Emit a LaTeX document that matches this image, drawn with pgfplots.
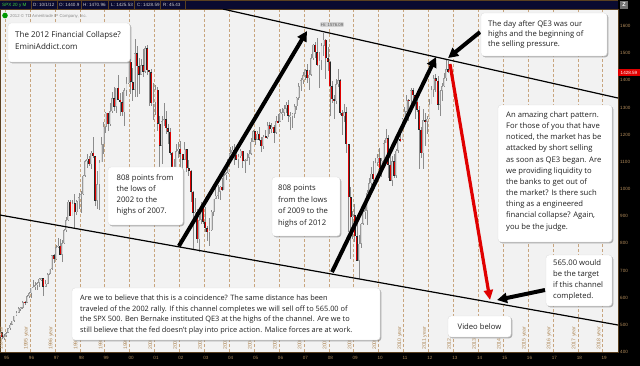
\documentclass[border=0pt]{standalone}
\usepackage{pgfplots}
\pgfplotsset{compat=1.18}
\usepackage{pgfplotstable}
\usepackage{fontspec}
\setmainfont{Open Sans}
\newfontfamily\lib{Liberation Sans}
\usetikzlibrary{arrows.meta,shadows}
\definecolor{plotbg}{HTML}{F2F2F2}
\definecolor{gridtan}{HTML}{C8A57E}
\definecolor{labtan}{HTML}{B08A5A}
\definecolor{barnavy}{HTML}{0A0A30}
\definecolor{barline}{HTML}{5A4020}
\definecolor{cred}{HTML}{E00000}
\definecolor{wick}{HTML}{8C8C8C}
\definecolor{upedge}{HTML}{9A9A9A}
\definecolor{upfill}{HTML}{DADADA}
\definecolor{txt}{HTML}{202020}

\pgfplotstableread{
yr mo o h l c
1994 10 462 473 455 472
1994 11 472 474 449 454
1994 12 454 466 443 459
1995 1 459 472 457 470
1995 2 470 490 469 487
1995 3 487 507 482 501
1995 4 501 515 500 515
1995 5 515 534 510 533
1995 6 533 551 533 545
1995 7 545 566 545 562
1995 8 562 565 552 562
1995 9 562 586 560 584
1995 10 584 586 572 582
1995 11 582 609 582 605
1995 12 605 622 600 616
1996 1 616 636 597 636
1996 2 636 664 634 640
1996 3 640 656 627 646
1996 4 646 657 630 654
1996 5 654 673 641 669
1996 6 669 673 661 671
1996 7 671 671 605 640
1996 8 640 666 639 652
1996 9 652 690 650 687
1996 10 687 706 684 706
1996 11 706 757 702 757
1996 12 757 762 726 741
1997 1 741 794 737 786
1997 2 786 818 783 791
1997 3 791 815 756 757
1997 4 757 812 733 801
1997 5 801 851 797 848
1997 6 848 898 840 885
1997 7 885 961 882 954
1997 8 954 961 899 899
1997 9 899 960 899 947
1997 10 947 983 855 915
1997 11 915 961 903 955
1997 12 955 986 926 970
1998 1 970 993 912 980
1998 2 980 1050 979 1049
1998 3 1049 1106 1046 1102
1998 4 1102 1130 1077 1112
1998 5 1112 1123 1084 1091
1998 6 1091 1141 1074 1134
1998 7 1134 1190 1113 1121
1998 8 1121 1122 939 957
1998 9 957 1066 925 1017
1998 10 1017 1105 923 1099
1998 11 1099 1192 1098 1164
1998 12 1164 1245 1130 1229
1999 1 1229 1285 1205 1280
1999 2 1280 1280 1212 1238
1999 3 1238 1317 1232 1286
1999 4 1286 1358 1281 1335
1999 5 1335 1376 1287 1302
1999 6 1302 1373 1280 1373
1999 7 1373 1421 1346 1329
1999 8 1329 1352 1268 1320
1999 9 1320 1358 1269 1283
1999 10 1283 1373 1233 1363
1999 11 1363 1411 1342 1389
1999 12 1389 1474 1387 1469
2000 1 1469 1478 1350 1394
2000 2 1394 1445 1325 1366
2000 3 1366 1553 1340 1499
2000 4 1499 1527 1339 1452
2000 5 1452 1481 1349 1421
2000 6 1421 1477 1420 1455
2000 7 1455 1517 1413 1431
2000 8 1431 1525 1428 1518
2000 9 1518 1531 1421 1437
2000 10 1437 1437 1305 1429
2000 11 1429 1440 1304 1315
2000 12 1315 1390 1254 1320
2001 1 1320 1384 1274 1366
2001 2 1366 1377 1215 1240
2001 3 1240 1268 1081 1160
2001 4 1160 1269 1092 1249
2001 5 1249 1316 1233 1256
2001 6 1256 1287 1203 1224
2001 7 1224 1239 1165 1211
2001 8 1211 1226 1124 1134
2001 9 1134 1135 944 1041
2001 10 1041 1111 1026 1060
2001 11 1060 1164 1055 1139
2001 12 1139 1173 1114 1148
2002 1 1148 1176 1081 1130
2002 2 1130 1130 1074 1107
2002 3 1107 1173 1106 1147
2002 4 1147 1147 1063 1077
2002 5 1077 1107 1049 1067
2002 6 1067 1070 953 990
2002 7 990 994 776 912
2002 8 912 966 878 916
2002 9 916 925 801 815
2002 10 815 900 768 886
2002 11 886 952 873 936
2002 12 936 954 872 880
2003 1 880 935 840 856
2003 2 856 865 807 841
2003 3 841 895 789 848
2003 4 848 924 847 917
2003 5 917 965 902 964
2003 6 964 1015 963 975
2003 7 975 1016 962 990
2003 8 990 1011 961 1008
2003 9 1008 1040 991 996
2003 10 996 1054 995 1051
2003 11 1051 1063 1032 1058
2003 12 1058 1112 1056 1112
2004 1 1112 1155 1105 1131
2004 2 1131 1159 1124 1145
2004 3 1145 1164 1087 1126
2004 4 1126 1150 1107 1107
2004 5 1107 1128 1077 1121
2004 6 1121 1146 1113 1141
2004 7 1141 1141 1078 1102
2004 8 1102 1109 1060 1104
2004 9 1104 1131 1102 1115
2004 10 1115 1142 1090 1130
2004 11 1130 1188 1127 1174
2004 12 1174 1217 1173 1212
2005 1 1212 1212 1163 1181
2005 2 1181 1212 1180 1204
2005 3 1204 1229 1177 1181
2005 4 1181 1191 1136 1157
2005 5 1157 1199 1146 1192
2005 6 1192 1219 1188 1191
2005 7 1191 1246 1184 1234
2005 8 1234 1245 1201 1220
2005 9 1220 1243 1205 1229
2005 10 1229 1234 1168 1207
2005 11 1207 1270 1202 1249
2005 12 1249 1276 1246 1248
2006 1 1248 1295 1245 1280
2006 2 1280 1297 1253 1281
2006 3 1281 1310 1268 1295
2006 4 1295 1319 1280 1311
2006 5 1311 1326 1245 1270
2006 6 1270 1284 1219 1270
2006 7 1270 1280 1224 1277
2006 8 1277 1312 1263 1304
2006 9 1304 1340 1290 1336
2006 10 1336 1389 1327 1378
2006 11 1378 1407 1360 1401
2006 12 1401 1431 1385 1418
2007 1 1418 1441 1403 1438
2007 2 1438 1461 1389 1407
2007 3 1407 1438 1364 1421
2007 4 1421 1498 1416 1482
2007 5 1482 1535 1476 1531
2007 6 1531 1540 1484 1503
2007 7 1503 1556 1451 1455
2007 8 1455 1504 1370 1474
2007 9 1474 1539 1439 1527
2007 10 1527 1576 1490 1549
2007 11 1549 1551 1406 1481
2007 12 1481 1524 1436 1468
2008 1 1468 1471 1270 1379
2008 2 1379 1396 1317 1331
2008 3 1331 1345 1257 1323
2008 4 1323 1404 1313 1386
2008 5 1386 1440 1374 1400
2008 6 1400 1404 1272 1280
2008 7 1280 1292 1200 1267
2008 8 1267 1314 1248 1283
2008 9 1283 1303 1134 1165
2008 10 1165 1167 840 969
2008 11 969 1008 741 896
2008 12 896 919 815 903
2009 1 903 943 805 826
2009 2 826 876 735 735
2009 3 735 832 667 798
2009 4 798 876 784 873
2009 5 873 930 866 919
2009 6 919 956 889 919
2009 7 919 997 869 987
2009 8 987 1040 979 1021
2009 9 1021 1080 992 1057
2009 10 1057 1102 1030 1036
2009 11 1036 1114 1030 1096
2009 12 1096 1130 1086 1115
2010 1 1115 1151 1071 1074
2010 2 1074 1113 1045 1104
2010 3 1104 1181 1102 1169
2010 4 1169 1220 1168 1187
2010 5 1187 1200 1040 1089
2010 6 1089 1131 1028 1031
2010 7 1031 1121 1011 1102
2010 8 1102 1129 1040 1049
2010 9 1049 1149 1040 1141
2010 10 1141 1196 1131 1183
2010 11 1183 1228 1173 1181
2010 12 1181 1263 1181 1258
2011 1 1258 1303 1257 1286
2011 2 1286 1345 1285 1327
2011 3 1327 1333 1249 1326
2011 4 1326 1370 1313 1364
2011 5 1364 1371 1311 1345
2011 6 1345 1346 1259 1321
2011 7 1321 1357 1283 1292
2011 8 1292 1307 1074 1219
2011 9 1219 1230 1115 1131
2011 10 1131 1293 1075 1253
2011 11 1253 1278 1158 1247
2011 12 1247 1270 1202 1258
2012 1 1258 1333 1258 1312
2012 2 1312 1378 1312 1366
2012 3 1366 1420 1340 1408
2012 4 1408 1422 1358 1398
2012 5 1398 1415 1291 1310
2012 6 1310 1364 1267 1362
2012 7 1362 1392 1325 1379
2012 8 1379 1427 1377 1407
2012 9 1407 1475 1396 1441
2012 10 1441 1471 1426 1429
}\spx

\newcommand\callouttext[5]{%
  \foreach \t [count=\i from 0] in {#5} {%
    \node[anchor=base west, inner sep=0pt, font=\fontsize{#4}{#4}\selectfont, text=txt] at (#1,{#2+\i*#3}) {\t};}}

\tikzset{callout/.style={fill=white, draw=black!12, line width=0.4bp, rounded corners=3bp,
  drop shadow={shadow xshift=1.3bp, shadow yshift=-1.3bp, fill=black!55, opacity=0.55}}}

\begin{document}
\begin{tikzpicture}
\useasboundingbox (0bp,0bp) rectangle (640bp,-366bp);
\fill[black] (0bp,0bp) rectangle (640bp,-366bp);
\begin{axis}[
  at={(0bp,-352bp)}, anchor=south west,
  scale only axis, width=618bp, height=343bp,
  xmin=1994.795, xmax=2019.614, ymin=400, ymax=1662.6,
  axis background/.style={fill=plotbg},
  axis line style={draw=barline},
  xtick={1995,1996,...,2019},
  xticklabels={95,96,97,98,99,00,01,02,03,04,05,06,07,08,09,10,11,12,13,14,15,16,17,18,19},
  ytick={400,500,...,1600},
  yticklabels={400,500,600,700,800,900,1000,1100,1200,1300,1400,1500,1600},
  yticklabel pos=right,
  major tick length=0pt,
  xmajorgrids,
  major x grid style={draw=gridtan, dash pattern=on 3bp off 2bp, line width=0.6bp},
  xticklabel style={font=\lib\fontsize{4.6}{5}\selectfont, text=labtan, anchor=north, inner sep=0pt, yshift=-4bp, xshift=1.5bp},
  yticklabel style={font=\lib\fontsize{4.6}{5}\selectfont, text=labtan, anchor=west, inner sep=0pt, xshift=2bp},
]
% wicks
\addplot[draw=none, forget plot, error bars/.cd, y dir=both, y explicit, error mark=none,
  error bar style={draw=wick, line width=0.5bp}]
  table[x expr={\thisrow{yr}+(\thisrow{mo}-0.5)/12}, y expr={(\thisrow{h}+\thisrow{l})/2},
        y error expr={(\thisrow{h}-\thisrow{l})/2}] {\spx};
% up bodies
\addplot[draw=none, forget plot, error bars/.cd, y dir=both, y explicit, error mark=none,
  error bar style={draw=upedge, line width=1.9bp}]
  table[x expr={\thisrow{yr}+(\thisrow{mo}-0.5)/12},
        y expr={\thisrow{c}>=\thisrow{o} ? (\thisrow{o}+\thisrow{c})/2 : nan},
        y error expr={max(abs(\thisrow{c}-\thisrow{o})/2,2.5)}] {\spx};
\addplot[draw=none, forget plot, error bars/.cd, y dir=both, y explicit, error mark=none,
  error bar style={draw=upfill, line width=0.7bp}]
  table[x expr={\thisrow{yr}+(\thisrow{mo}-0.5)/12},
        y expr={\thisrow{c}>=\thisrow{o} ? (\thisrow{o}+\thisrow{c})/2 : nan},
        y error expr={max(abs(\thisrow{c}-\thisrow{o})/2-2,0.5)}] {\spx};
% down bodies
\addplot[draw=none, forget plot, error bars/.cd, y dir=both, y explicit, error mark=none,
  error bar style={draw=black!85, line width=2.0bp}]
  table[x expr={\thisrow{yr}+(\thisrow{mo}-0.5)/12},
        y expr={\thisrow{c}<\thisrow{o} ? (\thisrow{o}+\thisrow{c})/2 : nan},
        y error expr={max(abs(\thisrow{c}-\thisrow{o})/2,2.5)}] {\spx};
\addplot[draw=none, forget plot, error bars/.cd, y dir=both, y explicit, error mark=none,
  error bar style={draw=cred, line width=1.0bp}]
  table[x expr={\thisrow{yr}+(\thisrow{mo}-0.5)/12},
        y expr={\thisrow{c}<\thisrow{o} ? (\thisrow{o}+\thisrow{c})/2 : nan},
        y error expr={max(abs(\thisrow{c}-\thisrow{o})/2-2,0.5)}] {\spx};
% channel lines
\addplot[black, line width=1.2bp] coordinates {(2003.751,1662.4) (2019.614,1334.9)};
\addplot[black, line width=1.2bp] coordinates {(1994.795,904.2) (2019.614,499.4)};
% arrows
\draw[line width=4bp, -{Triangle[length=10bp,width=10bp]}] (2001.98,790.1) -- (2007.124,1581.5);
\draw[line width=4bp, -{Triangle[length=10bp,width=10bp]}] (2008.128,694.4) -- (2012.305,1485.7);
\draw[line width=4bp, -{Triangle[length=10bp,width=10bp]}] (2014.072,1577.8) -- (2012.79,1482.1);
\draw[line width=4bp, -{Triangle[length=10bp,width=10bp]}] (2016.683,628.2) -- (2014.755,591.4);
\draw[cred, line width=3.2bp, -{Triangle[length=10bp,width=9bp]}] (2012.867,1460) -- (2014.474,591.4);
\end{axis}

\begin{scope}[x=1bp,y=-1bp]
% top bar
\fill[barnavy] (0,0) rectangle (618,9);
\draw[barline, line width=0.6bp] (0,0.3) -- (618,0.3);
\foreach \d in {31,57,81,108,134,160,185} \draw[barline, line width=0.6bp] (\d,0) -- (\d,9);
\node[anchor=base west, inner sep=0pt, font=\lib\fontsize{4.6}{5}\selectfont, text={rgb,255:red,60;green,210;blue,60}] at (2,6.5) {SPX 20 y M};
\foreach \x/\s in {33/{D: 10/1/12},59/{O: 1440.9},83/{H: 1470.96},111/{L: 1425.53},137/{C: 1428.59},163/{R: 45.43}}
  \node[anchor=base west, inner sep=0pt, font=\lib\fontsize{4.6}{5}\selectfont, text=black!20] at (\x,6.5) {\s};
\fill[black!55] (620,1) rectangle (628,8.5);
\node[inner sep=0pt, font=\lib\bfseries\fontsize{5.5}{6}\selectfont, text=white] at (624,4.8) {Z};
% copyright
\fill[green!60!black] (5,15.5) circle (2.8);
\node[anchor=base west, inner sep=0pt, font=\lib\fontsize{4.3}{5}\selectfont, text=black!45] at (10,17) {2012 © TD Ameritrade IP Company, Inc.};
% Hi label
\node[fill=black!18, rounded corners=1bp, inner sep=0.8bp, font=\lib\fontsize{4.3}{5}\selectfont, text=black!65] at (332,24.5) {Hi: 1576.09};
% rotated year labels
\foreach \Y in {1994,...,2018}
  \node[rotate=90, anchor=west, inner sep=0pt, font=\lib\fontsize{5.2}{5.5}\selectfont, text=labtan] at ({30+24.9*(\Y+1-1996)-3.7},350) {\Y\ year};
% red price tag
\fill[cred] (618,69.3) rectangle (640,75.5);
\node[inner sep=0pt, font=\lib\fontsize{4.6}{5}\selectfont, text=white] at (629,72.5) {1428.59};
% callouts
\path[callout] (8,23) rectangle (130,62);
\callouttext{15}{37}{12}{8}{{The 2012 Financial Collapse?},{EminiAddict.com}}
\path[callout] (481,13) rectangle (607,56);
\callouttext{488}{26}{10.3}{7.7}{{The day after QE3 was our},{highs and the beginning of},{the selling pressure.}}
\path[callout] (498,105) rectangle (612,242);
\callouttext{506}{117.5}{11.15}{7.7}{{An amazing chart pattern.},{For those of you that have},{noticed, the market has be},{attacked by short selling},{as soon as QE3 began. Are},{we providing liquidity to},{the banks to get out of},{the market? Is there such},{thing as a engineered},{financial collapse? Again,},{you be the judge.}}
\path[callout] (108,167) rectangle (183,225);
\callouttext{116.5}{180.5}{11.1}{7.7}{{808 points from},{the lows of},{2002 to the},{highs of 2007.}}
\path[callout] (272,177) rectangle (340,236);
\callouttext{278}{190.5}{11.5}{7.7}{{808 points},{from the lows},{of 2009 to the},{highs of 2012}}
\path[callout] (72,288) rectangle (380,340);
\callouttext{80}{300.5}{10.6}{7.4}{{Are we to believe that this is a coincidence? The same distance has been},{traveled of the 2002 rally. If this channel completes we will sell off to 565.00 of},{the SPX 500. Ben Bernake instituted QE3 at the highs of the channel. Are we to},{still believe that the fed doesn't play into price action. Malice forces are at work.}}
\path[callout] (546,255) rectangle (612,306);
\callouttext{553}{265.5}{10.9}{7.7}{{565.00 would},{be the target},{if this channel},{completed.}}
\path[callout] (448,316) rectangle (511,337);
\node[anchor=base, inner sep=0pt, font=\fontsize{7.7}{7.7}\selectfont, text=txt] at (479.5,329.5) {Video below};
\end{scope}
\end{tikzpicture}
\end{document}
